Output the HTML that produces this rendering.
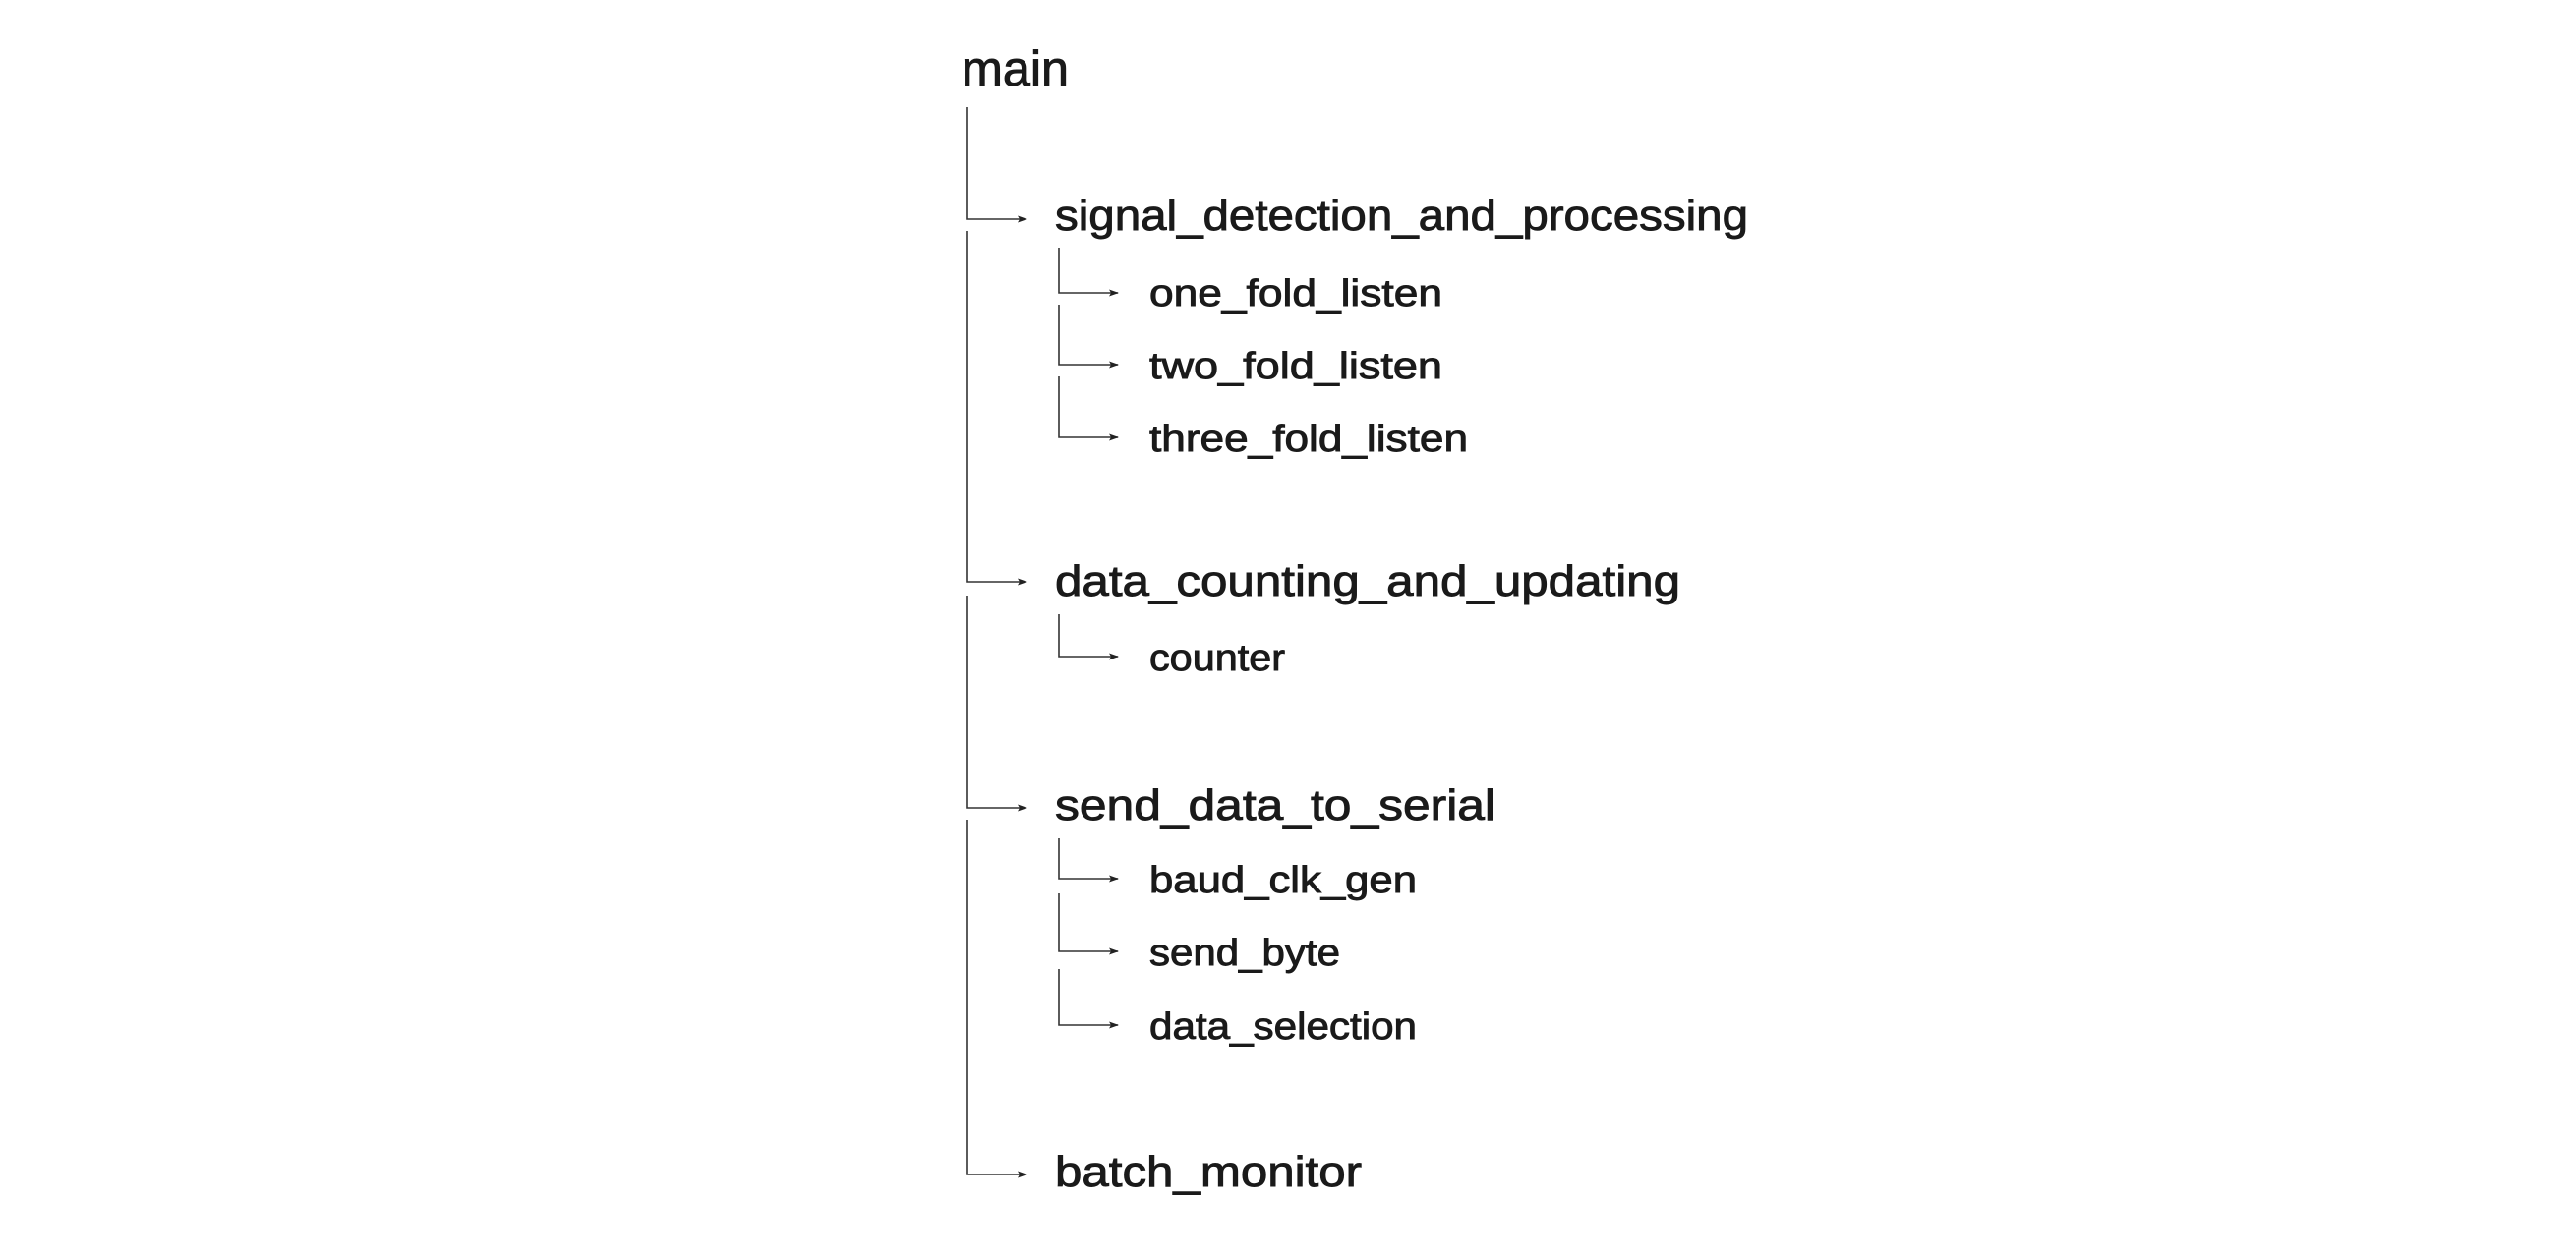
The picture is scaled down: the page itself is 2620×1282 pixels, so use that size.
<!DOCTYPE html>
<html><head><meta charset="utf-8"><style>html,body{margin:0;padding:0;background:#fff}svg{display:block}</style></head>
<body>
<svg width="2620" height="1282" viewBox="0 0 2620 1282" xmlns="http://www.w3.org/2000/svg">
<defs><marker id="a" markerWidth="10" markerHeight="8" refX="9" refY="3.5" orient="auto" markerUnits="userSpaceOnUse"><path d="M0,0 L10,3.5 L0,7 L2,3.5 z" fill="#222"/></marker></defs>
<g stroke="#333" stroke-width="1.6" fill="none">
<path d="M984,109 V223 H1044" marker-end="url(#a)"/>
<path d="M984,235 V592 H1044" marker-end="url(#a)"/>
<path d="M984,606 V822 H1044" marker-end="url(#a)"/>
<path d="M984,834 V1195 H1044" marker-end="url(#a)"/>
<path d="M1077,252 V298 H1137" marker-end="url(#a)"/>
<path d="M1077,310 V371 H1137" marker-end="url(#a)"/>
<path d="M1077,383 V445 H1137" marker-end="url(#a)"/>
<path d="M1077,625 V668 H1137" marker-end="url(#a)"/>
<path d="M1077,853 V894 H1137" marker-end="url(#a)"/>
<path d="M1077,909 V968 H1137" marker-end="url(#a)"/>
<path d="M1077,986 V1043 H1137" marker-end="url(#a)"/>
</g>
<g font-family="Liberation Sans, sans-serif" fill="#1a1a1a" stroke="#1a1a1a" stroke-width="0.9">
<text x="978" y="87" font-size="50" textLength="109" lengthAdjust="spacingAndGlyphs">main</text>
<text x="1073" y="234" font-size="44" textLength="705" lengthAdjust="spacingAndGlyphs">signal_detection_and_processing</text>
<text x="1169" y="311" font-size="38" textLength="298" lengthAdjust="spacingAndGlyphs">one_fold_listen</text>
<text x="1169" y="385" font-size="38" textLength="298" lengthAdjust="spacingAndGlyphs">two_fold_listen</text>
<text x="1169" y="459" font-size="38" textLength="324" lengthAdjust="spacingAndGlyphs">three_fold_listen</text>
<text x="1073" y="606" font-size="44" textLength="636" lengthAdjust="spacingAndGlyphs">data_counting_and_updating</text>
<text x="1169" y="682" font-size="38" textLength="138" lengthAdjust="spacingAndGlyphs">counter</text>
<text x="1073" y="834" font-size="44" textLength="448" lengthAdjust="spacingAndGlyphs">send_data_to_serial</text>
<text x="1169" y="908" font-size="38" textLength="272" lengthAdjust="spacingAndGlyphs">baud_clk_gen</text>
<text x="1169" y="982" font-size="38" textLength="194" lengthAdjust="spacingAndGlyphs">send_byte</text>
<text x="1169" y="1057" font-size="38" textLength="272" lengthAdjust="spacingAndGlyphs">data_selection</text>
<text x="1073" y="1207" font-size="44" textLength="312" lengthAdjust="spacingAndGlyphs">batch_monitor</text>
</g>
</svg>
</body></html>
